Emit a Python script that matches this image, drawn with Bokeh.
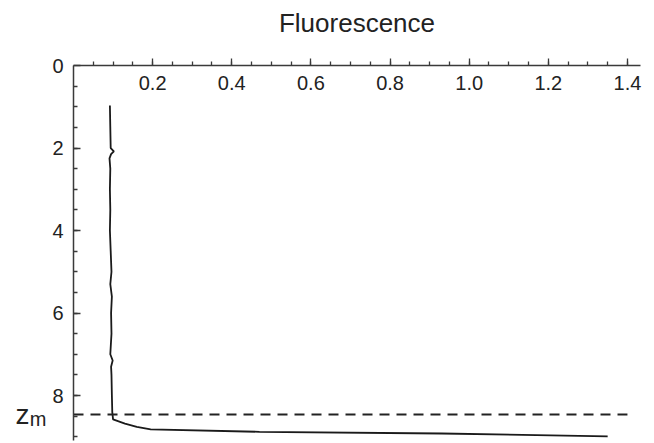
import numpy as np
from bokeh.plotting import figure
from bokeh.models import Range1d, FixedTicker, LinearAxis
from bokeh.embed import file_html
from bokeh.resources import INLINE

# data: fluorescence (x) vs depth (y, increasing downward)
depth = [0.97, 1.5, 2.0, 2.08, 2.15, 2.25, 2.5, 3.0, 3.5, 4.0, 4.5, 5.0, 5.3,
         5.6, 6.0, 6.5, 7.0, 7.15, 7.3, 7.5, 8.0, 8.4, 8.58, 8.68, 8.76,
         8.82, 8.88, 8.92, 8.99]
fluor = [0.092, 0.093, 0.094, 0.102, 0.095, 0.091, 0.093, 0.092, 0.093, 0.092,
         0.094, 0.096, 0.093, 0.097, 0.095, 0.096, 0.093, 0.099, 0.095, 0.096,
         0.097, 0.098, 0.100, 0.13, 0.16, 0.195, 0.47, 0.93, 1.35]
z_m = 8.46
z_m_line_x = [0.0, 1.4]

x_ticks = [0.2, 0.4, 0.6, 0.8, 1.0, 1.2, 1.4]
x_labels = ["0.2", "0.4", "0.6", "0.8", "1.0", "1.2", "1.4"]
y_ticks = [0, 2, 4, 6, 8]
y_labels = ["0", "2", "4", "6", "8"]
title_text = "Fluorescence"
zm_main, zm_sub = "z", "m"

FONT = "Liberation Sans"
AX = "#3a3a3a"
TXT = "#222222"

p = figure(width=654, height=443, output_backend="svg", toolbar_location=None,
           x_range=Range1d(0, 1.433), y_range=Range1d(9.09, 0),
           x_axis_location="above", y_axis_location="left",
           min_border_left=73, min_border_right=14, min_border_top=65,
           min_border_bottom=3)
p.outline_line_color = None
p.grid.visible = False
p.background_fill_color = "white"
p.border_fill_color = "white"

xa = p.xaxis[0]
xa.ticker = FixedTicker(ticks=x_ticks,
                        minor_ticks=list(np.round(np.arange(0.05, 1.43, 0.05), 3)))
xa.major_label_overrides = {t: l for t, l in zip(x_ticks, x_labels)}
xa.axis_line_color = AX
xa.axis_line_width = 1.5
xa.major_tick_line_color = AX
xa.minor_tick_line_color = AX
xa.major_tick_line_width = 1.3
xa.minor_tick_line_width = 1.3
xa.major_tick_out = 7
xa.major_tick_in = 0
xa.minor_tick_out = 4
xa.minor_tick_in = 0
xa.major_label_standoff = -31
xa.major_label_text_baseline = "middle"
xa.major_label_text_font = FONT
xa.major_label_text_font_size = "20px"
xa.major_label_text_color = TXT
# chart title drawn as the top axis' label
xa.axis_label = title_text
xa.axis_label_standoff = 35
xa.axis_label_text_font = FONT
xa.axis_label_text_font_size = "26px"
xa.axis_label_text_font_style = "normal"
xa.axis_label_text_color = TXT

ya = p.yaxis[0]
ya.ticker = FixedTicker(ticks=y_ticks,
                        minor_ticks=list(np.arange(0.5, 9.01, 0.5)))
ya.major_label_overrides = {t: l for t, l in zip(y_ticks, y_labels)}
ya.axis_line_color = AX
ya.axis_line_width = 1.5
ya.major_tick_line_color = AX
ya.minor_tick_line_color = AX
ya.major_tick_line_width = 1.3
ya.minor_tick_line_width = 1.3
ya.major_tick_out = 0
ya.major_tick_in = 7
ya.minor_tick_out = 0
ya.minor_tick_in = 4
ya.major_label_standoff = 10
ya.major_label_text_font = FONT
ya.major_label_text_font_size = "20px"
ya.major_label_text_color = TXT


def label_axis(tick, text, size, standoff):
    ax = LinearAxis(ticker=FixedTicker(ticks=[tick], minor_ticks=[]),
                    major_label_overrides={tick: text})
    ax.axis_line_color = None
    ax.major_tick_line_color = None
    ax.minor_tick_line_color = None
    ax.major_tick_in = 0
    ax.major_tick_out = 0
    ax.minor_tick_in = 0
    ax.minor_tick_out = 0
    ax.major_label_standoff = standoff
    ax.major_label_text_font = FONT
    ax.major_label_text_font_size = size
    ax.major_label_text_color = TXT
    return ax


# subscript "m" (nearer the frame), then "z"
p.add_layout(label_axis(z_m + 0.1, zm_sub, "20px", 3), "left")
p.add_layout(label_axis(z_m - 0.01, zm_main, "28px", -3), "left")

p.line(fluor, depth, line_color="#1a1a1a", line_width=1.8)

p.line(z_m_line_x, [z_m, z_m], line_color=TXT, line_width=1.8,
       line_dash="10 7")

open("out.html", "w").write(file_html(p, INLINE))
